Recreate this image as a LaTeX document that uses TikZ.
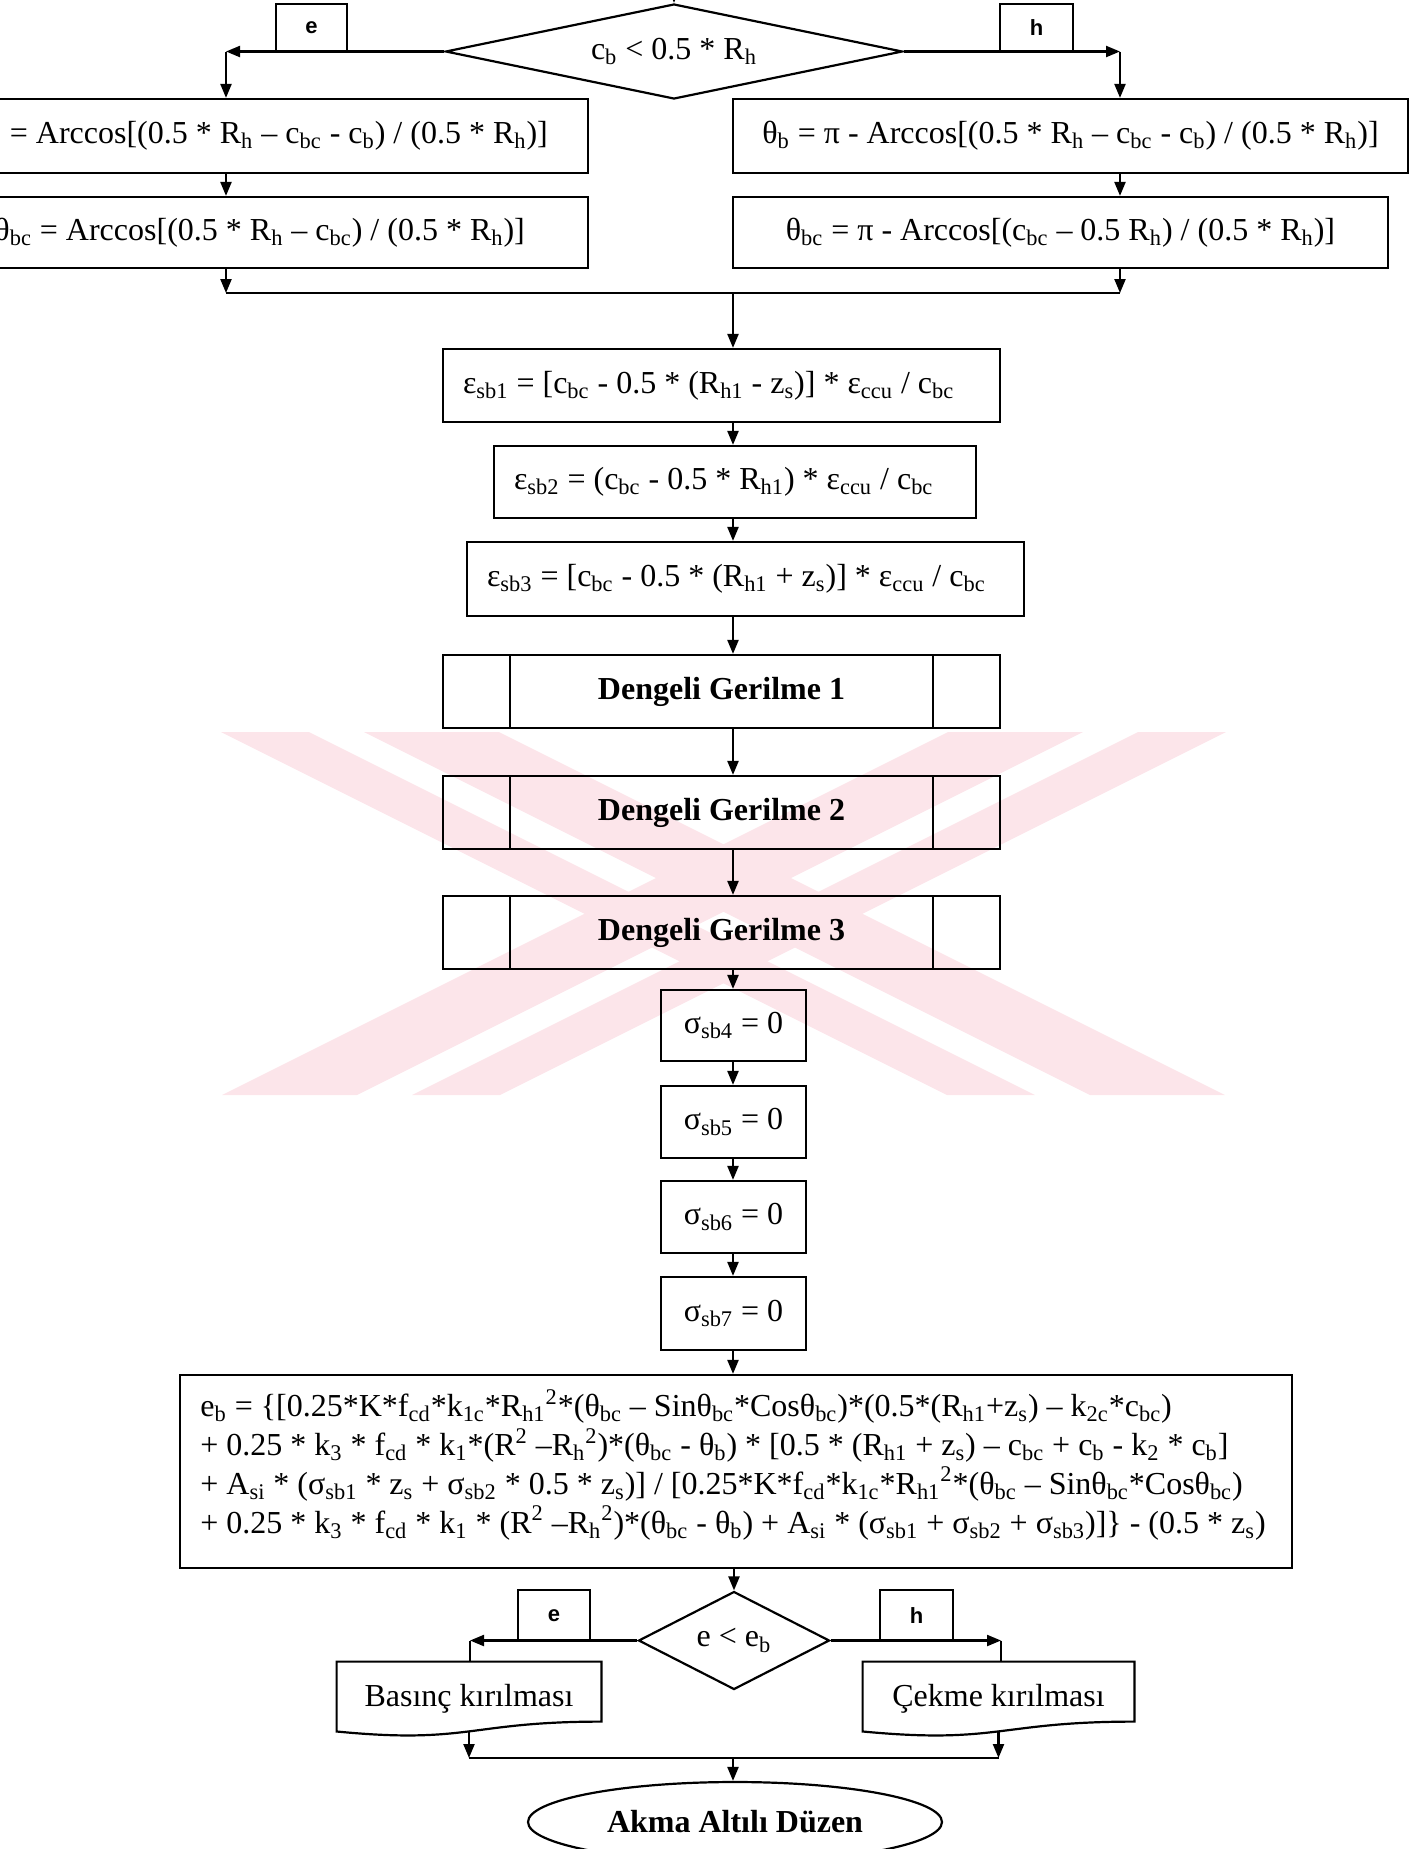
\documentclass[tikz,border=0pt]{standalone}
\usepackage{fontspec}
\setmainfont{Liberation Serif}
\newfontfamily\tagfont{Liberation Sans}
\usetikzlibrary{arrows.meta,shapes.geometric,calc}
\definecolor{wmpink}{RGB}{252,229,234}
\newcommand\lo[1]{\textsubscript{#1}}
\newcommand\hi[1]{\textsuperscript{#1}}
% fixed-width text lines with natural word spacing
\newcommand\lline[2]{\makebox[#1][l]{#2}}
\newcommand\rline[2]{\makebox[#1][r]{#2}}
% outline of a flowchart "document" symbol around a node
\newcommand\docoutline[1]{%
  \draw[ln] (#1.north west) -- (#1.north east)
    -- ($(#1.north east)!0.802!(#1.south east)$)
    .. controls ($(#1.north)!0.802!(#1.south)$) and ($(#1.north)!1.107!(#1.south)$)
    .. ($(#1.north west)!0.934!(#1.south west)$) -- cycle;}
\begin{document}
\begin{tikzpicture}[x=0.5pt,y=-0.5pt,
  font=\fontsize{16}{19}\selectfont,
  ln/.style={line width=1.1pt},
  arr/.style={ln,-{Triangle[length=7pt,width=5.5pt]}},
  proc/.style={draw,ln,rectangle,inner sep=0pt},
  lproc/.style={proc,inner xsep=10pt},
  decision/.style={draw,ln,diamond,inner sep=0pt},
  tag/.style={draw,ln,inner sep=0pt,font=\tagfont\bfseries\fontsize{11}{13}\selectfont},
  prede/.style={proc,minimum width=278.5pt,minimum height=36.5pt,
    font=\bfseries\fontsize{16}{19}\selectfont,
    path picture={
      \draw[ln] ([xshift=33.5pt]path picture bounding box.north west) -- ([xshift=33.5pt]path picture bounding box.south west);
      \draw[ln] ([xshift=-33.5pt]path picture bounding box.north east) -- ([xshift=-33.5pt]path picture bounding box.south east);}},
  sbox/.style={proc,minimum width=72.5pt},
  wm/.style={fill=wmpink}
]
\clip (0,0) rectangle (1424,1849);

% ---------- pale striped emblem behind the middle part ----------
\fill[wm] (221,732) -- (309,732) -- (1035,1095) -- (947,1095) -- cycle;
\fill[wm] (364,732) -- (499,732) -- (1225,1095) -- (1090,1095) -- cycle;
\fill[wm] (1138,732) -- (1226,732) -- (500,1095) -- (412,1095) -- cycle;
\fill[wm] (948,732) -- (1083,732) -- (357,1095) -- (222,1095) -- cycle;

% ---------- first decision ----------
\coordinate (cin) at (674,-30);
\node[decision,aspect=4.8,minimum width=228.5pt,minimum height=47.5pt] (c1) at (674,51.5) {c\lo{b} < 0.5 * R\lo{h}};
\draw[arr] (cin) -- (c1.north);
\node[tag,minimum width=35.5pt,minimum height=24pt] (te) at (311.5,28) {e};
\node[tag,minimum width=36.5pt,minimum height=24pt] (th) at (1036.5,28) {h};
\coordinate (lc) at (226,51.5);
\coordinate (rc) at (1120,51.5);

% left branch
\node[proc,anchor=east,inner xsep=20pt,minimum height=37pt] (L1) at (589,136)
  {\rline{350pt}{θ\lo{b} = Arccos[(0.5 * R\lo{h} – c\lo{bc} - c\lo{b}) / (0.5 * R\lo{h})]}};
\node[proc,anchor=east,inner xsep=31.5pt,minimum height=35.5pt] (L2) at (589,232.5)
  {\rline{350pt}{θ\lo{bc} = Arccos[(0.5 * R\lo{h} – c\lo{bc}) / (0.5 * R\lo{h})]}};

% right branch
\node[proc,minimum width=337.5pt,minimum height=37pt] (R1) at (1070.5,136)
  {θ\lo{b} = π - Arccos[(0.5 * R\lo{h} – c\lo{bc} - c\lo{b}) / (0.5 * R\lo{h})]};
\node[proc,minimum width=327.5pt,minimum height=35.5pt] (R2) at (1060.5,232.5)
  {θ\lo{bc} = π - Arccos[(c\lo{bc} – 0.5 R\lo{h}) / (0.5 * R\lo{h})]};

\draw[arr] (c1.west) -- (lc);
\draw[arr] (lc) -- (lc |- L1.north);
\draw[arr] (c1.east) -- (rc);
\draw[arr] (rc) -- (rc |- R1.north);

\coordinate (mL) at (226,293);
\coordinate (mR) at (1120,293);
\coordinate (mC) at (733,293);
\coordinate (fx) at (733,0);
\draw[arr] (lc |- L1.south) -- (lc |- L2.north);
\draw[arr] (lc |- L2.south) -- (mL);
\draw[arr] (rc |- R1.south) -- (rc |- R2.north);
\draw[arr] (rc |- R2.south) -- (mR);
\draw[ln] (mL) -- (mR);

% ---------- strains ----------
\node[lproc,minimum height=36.5pt] (E1) at (721.5,385.5)
  {\lline{258.5pt}{ε\lo{sb1} = [c\lo{bc} - 0.5 * (R\lo{h1} - z\lo{s})] * ε\lo{ccu} / c\lo{bc}}};
\node[lproc,minimum height=36pt] (E2) at (735,482)
  {\lline{221pt}{ε\lo{sb2} = (c\lo{bc} - 0.5 * R\lo{h1}) * ε\lo{ccu} / c\lo{bc}}};
\node[lproc,minimum height=37pt] (E3) at (745.5,579)
  {\lline{258.5pt}{ε\lo{sb3} = [c\lo{bc} - 0.5 * (R\lo{h1} + z\lo{s})] * ε\lo{ccu} / c\lo{bc}}};

% ---------- predefined processes ----------
\node[prede] (D1) at (721.5,691.5) {Dengeli Gerilme 1};
\node[prede] (D2) at (721.5,812.5) {Dengeli Gerilme 2};
\node[prede] (D3) at (721.5,932.5) {Dengeli Gerilme 3};

% ---------- stresses ----------
\node[sbox,minimum height=35.5pt] (S4) at (733.5,1025.5) {σ\lo{sb4} = 0};
\node[sbox,minimum height=36pt] (S5) at (733.5,1122) {σ\lo{sb5} = 0};
\node[sbox,minimum height=36pt] (S6) at (733.5,1217) {σ\lo{sb6} = 0};
\node[sbox,minimum height=36.5pt] (S7) at (733.5,1313.5) {σ\lo{sb7} = 0};

% ---------- balanced eccentricity ----------
\node[proc,minimum width=556pt,minimum height=96.5pt] (EB) at (736,1471.5) {};
\node[anchor=north west,inner sep=0pt,font=\fontsize{16}{19}\selectfont] (EBt) at (200,1389)
  {\begin{tabular}{@{}l@{}}
   e\lo{b} = \{[0.25*K*f\lo{cd}*k\lo{1c}*R\lo{h1}\hi{2}*(θ\lo{bc} – Sinθ\lo{bc}*Cosθ\lo{bc})*(0.5*(R\lo{h1}+z\lo{s}) – k\lo{2c}*c\lo{bc})\\
   + 0.25 * k\lo{3} * f\lo{cd} * k\lo{1}*(R\hi{2} –R\lo{h}\hi{2})*(θ\lo{bc} - θ\lo{b}) * [0.5 * (R\lo{h1} + z\lo{s}) – c\lo{bc} + c\lo{b} - k\lo{2} * c\lo{b}]\\
   + A\lo{si} * (σ\lo{sb1} * z\lo{s} + σ\lo{sb2} * 0.5 * z\lo{s})] / [0.25*K*f\lo{cd}*k\lo{1c}*R\lo{h1}\hi{2}*(θ\lo{bc} – Sinθ\lo{bc}*Cosθ\lo{bc})\\
   + 0.25 * k\lo{3} * f\lo{cd} * k\lo{1} * (R\hi{2} –R\lo{h}\hi{2})*(θ\lo{bc} - θ\lo{b}) + A\lo{si} * (σ\lo{sb1} + σ\lo{sb2} + σ\lo{sb3})]\} - (0.5 * z\lo{s})
   \end{tabular}};

\draw[arr] (mC) -- (mC |- E1.north);
\draw[arr] (E1.south -| fx) -- (E2.north -| fx);
\draw[arr] (E2.south -| fx) -- (E3.north -| fx);
\draw[arr] (E3.south -| fx) -- (D1.north -| fx);
\draw[arr] (D1.south -| fx) -- (D2.north -| fx);
\draw[arr] (D2.south -| fx) -- (D3.north -| fx);
\draw[arr] (D3.south -| fx) -- (S4.north -| fx);
\draw[arr] (S4.south -| fx) -- (S5.north -| fx);
\draw[arr] (S5.south -| fx) -- (S6.north -| fx);
\draw[arr] (S6.south -| fx) -- (S7.north -| fx);
\draw[arr] (S7.south -| fx) -- (EB.north -| fx);

% ---------- second decision ----------
\node[decision,aspect=1.95,minimum width=95.5pt,minimum height=49pt] (c2) at (734,1640.5) {e < e\lo{b}};
\draw[arr] (EB.south -| c2.north) -- (c2.north);
\node[tag,minimum width=36pt,minimum height=25.5pt] (te2) at (554,1615.5) {e};
\node[tag,minimum width=36.5pt,minimum height=25.5pt] (th2) at (916.5,1615.5) {h};
\coordinate (bl) at (470,1640.5);
\coordinate (br) at (1001,1640.5);

\node[minimum width=132pt,minimum height=37pt,inner sep=0pt] (B1) at (469,1699) {Basınç kırılması};
\node[minimum width=135.5pt,minimum height=37pt,inner sep=0pt] (CK) at (998.5,1699) {Çekme kırılması};
\docoutline{B1}
\docoutline{CK}

\draw[arr] (c2.west) -- (bl);
\draw[ln] (bl) -- (bl |- B1.north);
\draw[arr] (c2.east) -- (br);
\draw[ln] (br) -- (br |- CK.north);

\coordinate (b1out) at ($(B1.north)!0.933!(B1.south)$);
\coordinate (ckout) at ($(CK.north)!0.933!(CK.south)$);
\coordinate (mb) at (733,1758);
\node[draw,ln,ellipse,inner sep=0pt,minimum width=207pt,minimum height=40pt,font=\bfseries\fontsize{16}{19}\selectfont] (fin) at (735,1822) {Akma Altılı Düzen};
\draw[arr] (b1out) -- (b1out |- mb);
\draw[arr] (ckout) -- (ckout |- mb);
\draw[ln] (b1out |- mb) -- (ckout |- mb);
\draw[arr] (mb) -- (mb |- fin.north);
\end{tikzpicture}
\end{document}
